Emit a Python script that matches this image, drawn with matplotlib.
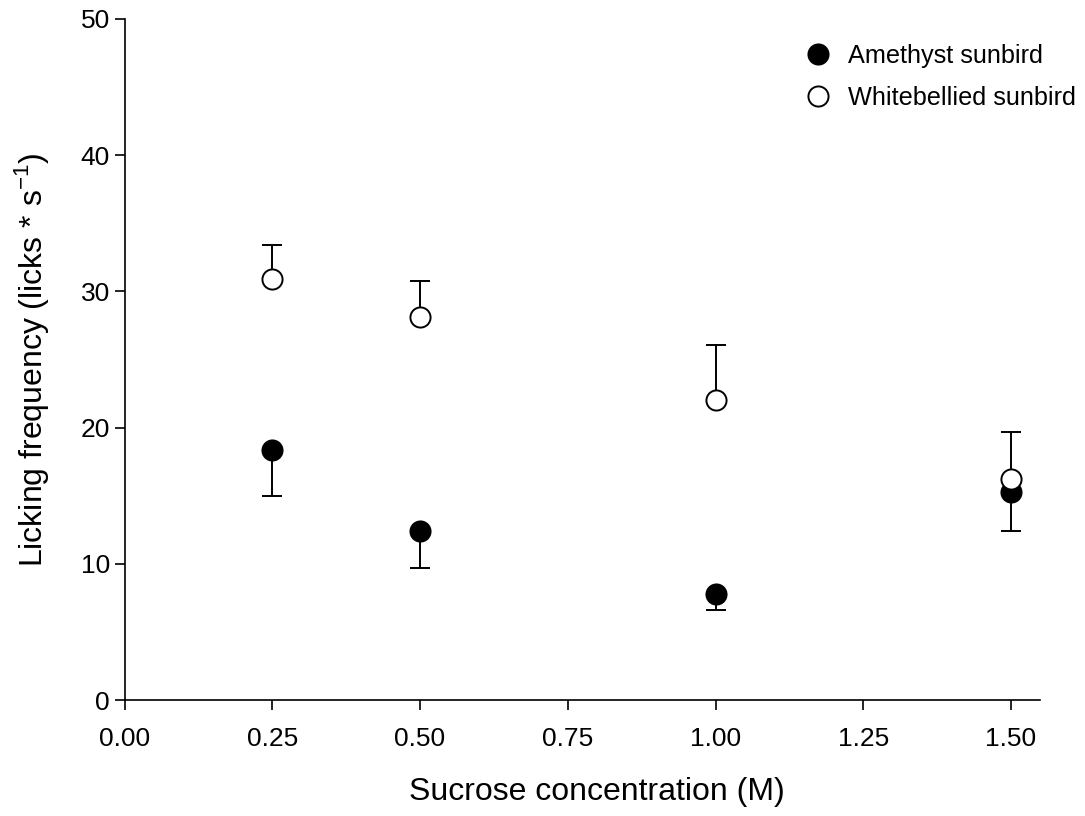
import matplotlib
matplotlib.use("Agg")
import matplotlib.pyplot as plt

plt.rcParams['font.family'] = ['Liberation Sans', 'DejaVu Sans']

x = [0.25, 0.50, 1.00, 1.50]
amethyst = [18.35, 12.4, 7.8, 15.3]
amethyst_err = [3.35, 2.7, 1.2, 2.9]
white = [30.9, 28.1, 22.0, 16.2]
white_err = [2.5, 2.7, 4.1, 3.5]

xticks = [0.00, 0.25, 0.50, 0.75, 1.00, 1.25, 1.50]
yticks = [0, 10, 20, 30, 40, 50]

fig = plt.figure(figsize=(10.85, 8.16), dpi=100)
ax = fig.add_axes([124.5/1085, 1 - 700/816, (1040-124.5)/1085, (700-19)/816])

am_low = [v - e for v, e in zip(amethyst, amethyst_err)]
wh_high = [v + e for v, e in zip(white, white_err)]

lw = 1.4
ax.vlines(x, am_low, amethyst, color='black', linewidth=lw, zorder=2)
ax.plot(x, am_low, linestyle='none', marker='_', markersize=14.5, markeredgewidth=lw,
        color='black', zorder=2)
ax.vlines(x, white, wh_high, color='black', linewidth=lw, zorder=2)
ax.plot(x, wh_high, linestyle='none', marker='_', markersize=14.5, markeredgewidth=lw,
        color='black', zorder=2)

ax.plot(x, amethyst, 'o', color='black', markersize=14.5, markeredgewidth=1.4, zorder=3,
        label='Amethyst sunbird')
ax.plot(x, white, 'o', markerfacecolor='white', markeredgecolor='black', markersize=14.5,
        markeredgewidth=1.4, zorder=4, label='Whitebellied sunbird')

ax.set_xlim(0, 1.549)
ax.set_ylim(0, 50)
ax.set_xticks(xticks)
ax.set_xticklabels([f"{v:.2f}" for v in xticks])
ax.set_yticks(yticks)
ax.tick_params(axis='both', direction='out', length=7, width=1.2, labelsize=19)
ax.tick_params(axis='x', pad=12.5)
ax.tick_params(axis='y', pad=3.5)
for s in ['top', 'right']:
    ax.spines[s].set_visible(False)
for s in ['left', 'bottom']:
    ax.spines[s].set_linewidth(1.2)

ax.set_xlabel('Sucrose concentration (M)', fontsize=23)
ax.xaxis.set_label_coords((597-124.5)/(1040-124.5), -0.113)
ax.set_ylabel(r'Licking frequency (licks * s$^{\mathregular{-1}}$)', fontsize=23, labelpad=21)

leg = fig.legend(loc='upper left', bbox_to_anchor=(803/1085, 1 - 44/816), frameon=False,
                 fontsize=18.2, handletextpad=0.58, labelspacing=0.72, handlelength=1.2,
                 borderpad=0, borderaxespad=0)

fig.savefig('out.png', dpi=100)
